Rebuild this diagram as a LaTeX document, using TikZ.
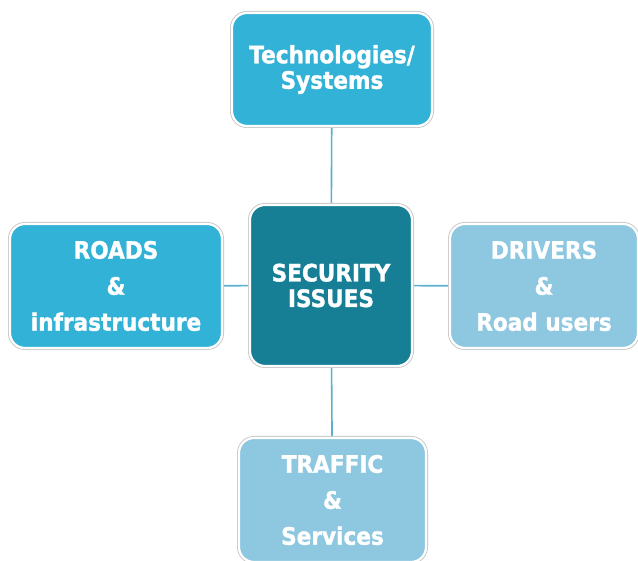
\documentclass[tikz,border=0pt]{standalone}
\usepackage{fontspec}
\setmainfont{DejaVu Sans}[FakeStretch=0.9,BoldFeatures={FakeBold=1.3}]
\usepackage{tikz}
\usetikzlibrary{positioning,backgrounds}
\definecolor{hubfill}{HTML}{167F96}
\definecolor{darkfill}{HTML}{33B2D8}
\definecolor{lightfill}{HTML}{8DC7E0}
\definecolor{linkcol}{HTML}{5BB0CF}
\tikzset{
  topic/.style={rectangle,rounded corners=15pt,draw=white,line width=2.2pt,
    preaction={draw=black!22,line width=4pt},text=white,align=center,
    inner sep=0pt,font=\bfseries\fontsize{24}{36}\selectfont},
  hub/.style={topic,fill=hubfill,minimum width=162pt,minimum height=161pt,
    font=\bfseries\fontsize{24}{25.5}\selectfont},
  link/.style={linkcol,line width=1.6pt}
}
\begin{document}
\begin{tikzpicture}[x=1pt,y=1pt]
\useasboundingbox (0,0) rectangle (638,561);
%boxes
\node[hub] (issues) at (331,275.5) {SECURITY\\ISSUES};
\node[topic,fill=darkfill,minimum width=200pt,minimum height=113pt,
  font=\bfseries\fontsize{24}{25.5}\selectfont] (tech) at (332,491.5) {Technologies/\\Systems};
\node[topic,fill=darkfill,minimum width=212pt,minimum height=124pt] (roads) at (116,275) {ROADS\\\&\\infrastructure};
\node[topic,fill=lightfill,minimum width=188pt,minimum height=124pt] (drivers) at (544,275) {DRIVERS\\\&\\Road users};
\node[topic,fill=lightfill,minimum width=187pt,minimum height=124pt] (traffic) at (332.5,61) {TRAFFIC\\\&\\Services};
%links
\begin{scope}[on background layer]
\draw[link] (tech) -- (issues);
\draw[link] (roads) -- (issues);
\draw[link] (drivers) -- (issues);
\draw[link] (traffic) -- (issues);
\end{scope}
\end{tikzpicture}
\end{document}
